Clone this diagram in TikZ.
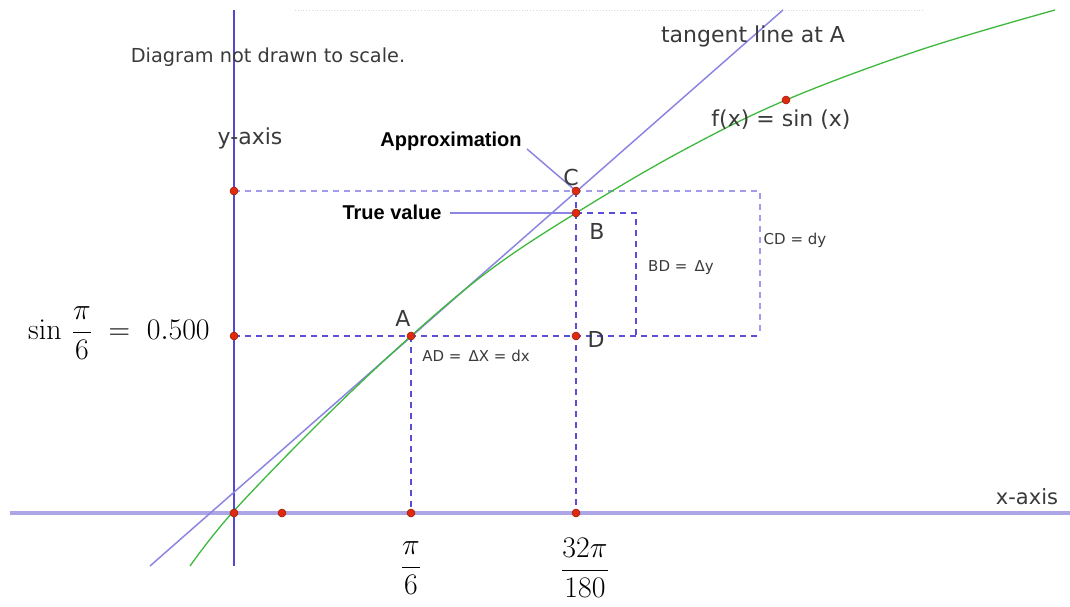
\documentclass[tikz,border=0pt]{standalone}
\usepackage[no-math]{fontspec}
\setmainfont{DejaVu Sans}
\newfontfamily\lsans{Liberation Sans}
\definecolor{labgray}{HTML}{3A3A3A}
\definecolor{axisblue}{HTML}{5448D0}
\definecolor{xaxiscol}{HTML}{ADA6E4}
\definecolor{dashdark}{HTML}{5A4ED8}
\definecolor{dashlight}{HTML}{A29AEA}
\definecolor{tancol}{HTML}{8C86E2}
\definecolor{curvegreen}{HTML}{3DB83D}
\definecolor{ptred}{HTML}{E02A10}
\begin{document}
\begin{tikzpicture}[x=1pt,y=-1pt,
  lab/.style={text=labgray, inner sep=0pt, font=\fontsize{22}{26}\selectfont},
  smalllab/.style={text=labgray, inner sep=0pt, font=\fontsize{15}{18}\selectfont},
  boldlab/.style={text=black, inner sep=0pt, font=\lsans\bfseries\fontsize{20}{24}\selectfont},
  mathlab/.style={inner sep=0pt, font=\fontsize{24.88}{30}\selectfont, scale=1.2},
  guidedark/.style={draw=dashdark, line width=1.6pt, dash pattern=on 6pt off 5pt},
  guidelight/.style={draw=dashlight, line width=1.6pt, dash pattern=on 6pt off 5pt},
  ptdot/.style={circle, fill=ptred, draw=ptred!65!black, line width=0.5pt, inner sep=0pt, minimum size=8pt},
]
\useasboundingbox (0,0) rectangle (1070,607);

% key coordinates
\coordinate (O) at (234,513);
\coordinate (P1) at (282,513);
\coordinate (Xa) at (411,513);
\coordinate (Xb) at (576,513);
\coordinate (Ya) at (234,336);
\coordinate (Yc) at (234,191);
\coordinate (A) at (411,336);
\coordinate (D) at (576,336);
\coordinate (B) at (576,213);
\coordinate (C) at (576,191);
\coordinate (F) at (786,100);
\coordinate (E1) at (760,191);
\coordinate (E2) at (760,336);
\coordinate (G1) at (636,213);
\coordinate (G2) at (636,336);
\coordinate (YT) at (234,10);
\coordinate (YB) at (234,566);
\coordinate (XL) at (10,513);
\coordinate (XR) at (1070,513);
\coordinate (T1) at (150,566);
\coordinate (T2) at (783,10);
\coordinate (TopL) at (295,10);
\coordinate (TopR) at (925,10);
\coordinate (ApE) at (527,149);
\coordinate (TvE) at (450,213);

% faint top line
\draw[gray!30, line width=0.8pt, dotted] (TopL) -- (TopR);

% guides
\draw[guidelight] (Yc) -- (E1) -- (E2);
\draw[guidedark] (Ya) -- (E2);
\draw[guidedark] (B) -- (G1) -- (G2);
\draw[guidedark] (A) -- (Xa);
\draw[guidedark] (C) -- (Xb);

% axes
\draw[xaxiscol, line width=4pt] (XL) -- (XR);
\draw[axisblue, line width=1.6pt] (YT) -- (YB);

% tangent line
\draw[tancol, line width=1.5pt] (T1) -- (T2);

% sine curve
\draw[curvegreen, line width=1.3pt] plot[smooth, tension=0.6] coordinates
  {(190,566) (232,513) (320,422) (411,336) (490,270) (576,213) (680,152) (786,100) (920,50) (1055,10)};

% leaders
\draw[tancol, line width=1.5pt] (ApE) -- (C);
\draw[tancol, line width=1.5pt] (TvE) -- (B);

% points
\foreach \p in {O,P1,Xa,Xb,Ya,Yc,A,D,B,C,F}
  \node[ptdot] (dot\p) at (\p) {};

% labels
\node[lab, font=\fontsize{19.3}{23}\selectfont] (note) at (268,57) {Diagram not drawn to scale.};
\node[lab] (tanlab) at (753,36) {tangent line at A};
\node[lab] (ylab) at (250,138) {y-axis};
\node[lab] (flab) at (781,120) {f(x) = sin (x)};
\node[lab, font=\fontsize{21}{25}\selectfont] (xlab) at (1027,497) {x-axis};
\node[boldlab] (approx) at (451,141) {Approximation};
\node[boldlab] (trueval) at (392,212) {True value};
\node[lab] (labA) at (403,318) {A};
\node[lab] (labB) at (597,231) {B};
\node[lab] (labC) at (571,177) {C};
\node[lab] (labD) at (596,339) {D};
\node[smalllab] (ad) at (476,356) {AD =\, ΔX = dx};
\node[smalllab] (bd) at (681,268) {BD =\, Δy};
\node[smalllab] (cd) at (795,240) {CD = dy};

% math labels
\node[mathlab, anchor=west] (sinlab) at (28,333) {$\displaystyle \sin\,\frac{\pi}{6}\;=\;0.500$};
\node[mathlab] (xa) at (411,568) {$\displaystyle \frac{\pi}{6}$};
\node[mathlab] (xb) at (585,568) {$\displaystyle \frac{32\pi}{180}$};
\end{tikzpicture}
\end{document}
